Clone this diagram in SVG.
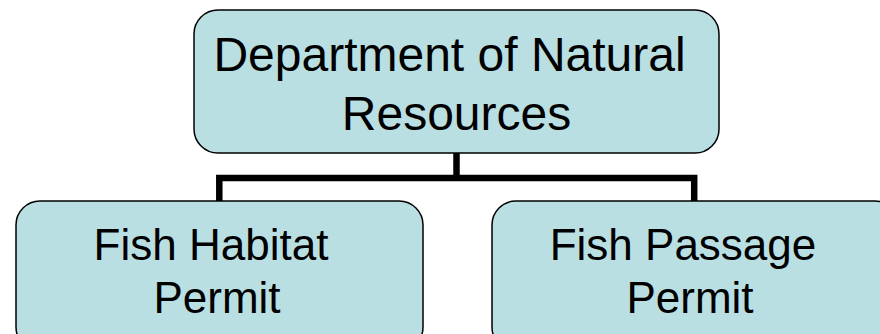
<svg xmlns="http://www.w3.org/2000/svg" width="880" height="334" viewBox="0 0 880 334">
<style>
.box{fill:#B9DFE3;stroke:#000;stroke-width:1.5}
.lbl{font-family:"Liberation Sans",Arial,sans-serif;fill:#000;text-anchor:middle}
.conn{fill:none;stroke:#000;stroke-width:6.5;stroke-linejoin:miter;stroke-linecap:butt}
</style>
<rect width="880" height="334" fill="#fff"/>
<g id="connectors">
<path class="conn" d="M456.5,153 V178"/>
<path class="conn" d="M219.3,201 V178 H694.2 V201"/>
</g>
<g id="node-dnr">
<rect class="box" x="194" y="10" width="525" height="143" rx="24" ry="24"/>
<text class="lbl" font-size="48" x="449.5" y="71">Department of Natural</text>
<text class="lbl" font-size="48" x="456.5" y="129.5">Resources</text>
</g>
<g id="node-habitat">
<rect class="box" x="16" y="201" width="407" height="150" rx="24" ry="24"/>
<text class="lbl" font-size="44" x="211" y="260">Fish Habitat</text>
<text class="lbl" font-size="44" x="217" y="313">Permit</text>
</g>
<g id="node-passage">
<rect class="box" x="492" y="201" width="407" height="150" rx="24" ry="24"/>
<text class="lbl" font-size="44" x="683" y="260">Fish Passage</text>
<text class="lbl" font-size="44" x="690" y="313">Permit</text>
</g>
</svg>
